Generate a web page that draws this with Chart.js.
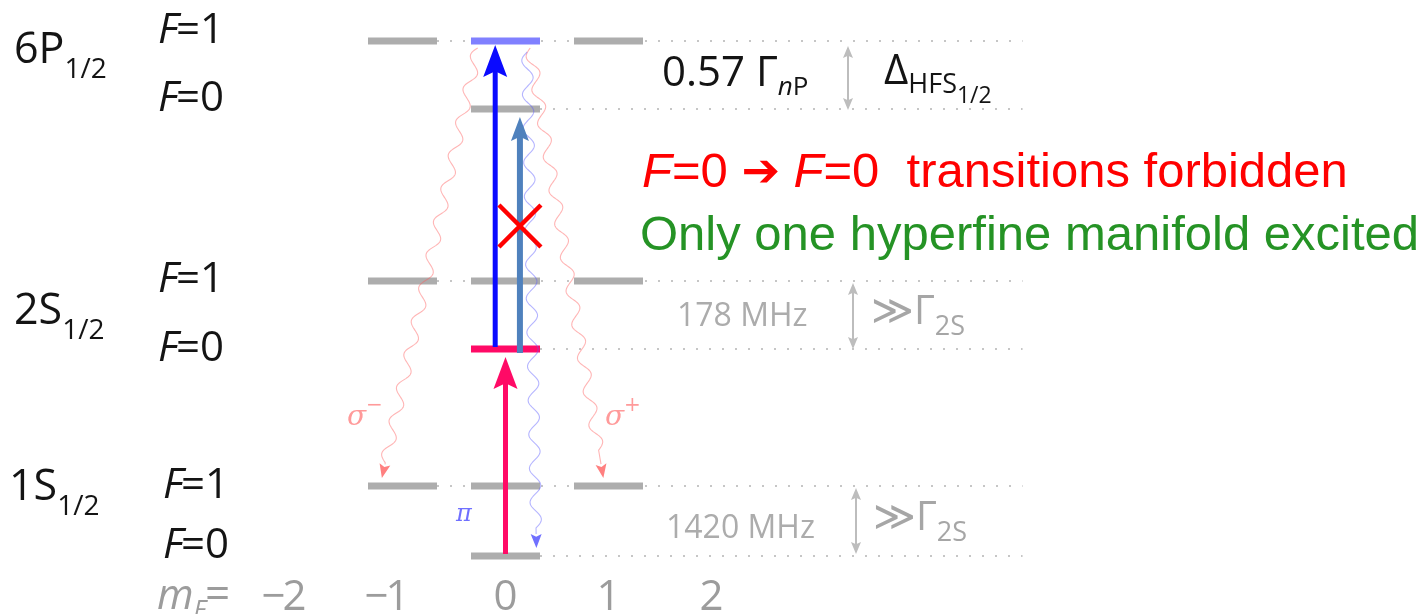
<!DOCTYPE html>
<html>
<head>
<meta charset="utf-8">
<script src="https://cdn.jsdelivr.net/npm/chart.js@4.4.1/dist/chart.umd.min.js"></script>
<style>
html,body{margin:0;padding:0;background:#fff;overflow:hidden;}
#wrap{width:1425px;height:614px;}
</style>
</head>
<body>
<div id="wrap"><canvas id="lv" width="1425" height="614"></canvas></div>
<script>
// mF axis and level energies (arbitrary diagram units, bottom = 0)
const mFTicks=[-2,-1,0,1,2];
const levelNames=['1S F=0','1S F=1','2S F=0','2S F=1','6P F=0','6P F=1'];
const levelEnergy=[58,128,265,333,505,573];
const levelMF=[[0],[-1,0,1],[0],[-1,0,1],[0],[-1,0,1]];
const highlightLevel=[2,5];          // 2S F=0 mF=0 and 6P F=1 mF=0
const highlightColor=['#ff0a66','#8080ff'];
// excitations: from level -> to level at mF
const laserFrom=[0,2,2];
const laserTo=[2,5,4];
const laserMF=[0,-0.1,0.14];
const laserColor=['#ff0a66','#0a0aff','#4f81bd'];
// spontaneous decays out of 6P F=1 mF=0
const decayName=['σ−','σ+','π'];
const decayFromMF=[-0.27,0.24,0.21];
const decayToLevel=[1,1,0];
const decayToMF=[-1.2,0.95,0.3];

const HALF=0.335, GUIDE_END=5.02;
const GRAY='#adadad';

function fontOf(p){return (p.italic?'italic ':'')+p.size+'px '+(p.family||'"Open Sans", "DejaVu Sans", sans-serif');}
function rich(ctx,x,y,parts,color){
  ctx.textAlign='left';ctx.textBaseline='alphabetic';
  parts.forEach(p=>{
    ctx.font=fontOf(p);ctx.fillStyle=p.color||color;
    ctx.fillText(p.t,x,y+(p.dy||0));
    x+=ctx.measureText(p.t).width+(p.kern||0);
  });
}
function stealth(ctx,x,tip,hw,hl,dir,color){
  ctx.beginPath();
  ctx.moveTo(x,tip);
  ctx.lineTo(x-hw,tip+dir*hl);
  ctx.lineTo(x,tip+dir*hl*0.82);
  ctx.lineTo(x+hw,tip+dir*hl);
  ctx.closePath();ctx.fillStyle=color;ctx.fill();
}
function wavy(ctx,x0,y0,x1,y1,color,headColor){
  const dx=x1-x0,dy=y1-y0,L=Math.hypot(dx,dy),ux=dx/L,uy=dy/L,nx=-uy,ny=ux;
  const head=14,amp=5.5,wl=34;
  const stop=Math.floor((L-head)/(wl/2))*(wl/2);
  ctx.beginPath();
  for(let s=0;s<=stop;s+=1){
    const o=amp*Math.sin(2*Math.PI*s/wl);
    const px=x0+ux*s+nx*o,py=y0+uy*s+ny*o;
    s?ctx.lineTo(px,py):ctx.moveTo(px,py);
  }
  ctx.lineTo(x1-ux*head,y1-uy*head);
  ctx.strokeStyle=color;ctx.lineWidth=1.1;ctx.stroke();
  ctx.beginPath();
  ctx.moveTo(x1,y1);
  ctx.lineTo(x1-ux*head+nx*5.5,y1-uy*head+ny*5.5);
  ctx.lineTo(x1-ux*head*0.8,y1-uy*head*0.8);
  ctx.lineTo(x1-ux*head-nx*5.5,y1-uy*head-ny*5.5);
  ctx.closePath();ctx.fillStyle=headColor;ctx.fill();
}
function dblArrow(ctx,x,y0,y1){
  ctx.strokeStyle='#bdbdbd';ctx.lineWidth=2;
  ctx.beginPath();ctx.moveTo(x,y0+8);ctx.lineTo(x,y1-8);ctx.stroke();
  stealth(ctx,x,y0,5,12,1,'#bdbdbd');
  stealth(ctx,x,y1,5,12,-1,'#bdbdbd');
}

const datasets=[];
levelNames.forEach((name,i)=>{
  const e=levelEnergy[i];
  datasets.push({label:name+' guide',data:[{x:Math.min(...levelMF[i])+HALF,y:e},{x:GUIDE_END,y:e}],
    showLine:true,borderColor:'#c6c6c6',borderWidth:2,borderDash:[2,11],pointRadius:0,order:3});
  levelMF[i].forEach(m=>{
    const h=highlightLevel.indexOf(i);
    datasets.push({label:name+' mF='+m,data:[{x:m-HALF,y:e},{x:m+HALF,y:e}],
      showLine:true,borderColor:(h>=0&&m===0)?highlightColor[h]:GRAY,borderWidth:7,
      borderCapStyle:'butt',pointRadius:0,order:2});
  });
});

const diagram={
  id:'diagram',
  afterDatasetsDraw(chart){
    const ctx=chart.ctx,xs=chart.scales.x,ys=chart.scales.y;
    const X=v=>xs.getPixelForValue(v),Y=v=>ys.getPixelForValue(v);
    ctx.save();
    // decays (wavy)
    const top=Y(levelEnergy[5])+7;
    decayName.forEach((n,k)=>{
      const red=k<2;
      wavy(ctx,X(decayFromMF[k]),top+(k===2?4:0),X(decayToMF[k]),Y(levelEnergy[decayToLevel[k]])-8,
        red?'rgba(255,90,90,0.45)':'rgba(90,90,255,0.45)',red?'#ff8080':'#7070ff');
    });
    // laser arrows
    laserFrom.forEach((f,k)=>{
      const x=X(laserMF[k]);
      const tail=Y(levelEnergy[f])+(k===2?4:-2);
      const tip=Y(levelEnergy[laserTo[k]])+(k===1?4:8);
      const w=k===2?6:5,hw=k===2?9:12,hl=k===2?24:32;
      ctx.fillStyle=laserColor[k];
      ctx.fillRect(x-w/2,tip+hl*0.7,w,tail-(tip+hl*0.7));
      stealth(ctx,x,tip,hw,hl,1,laserColor[k]);
    });
    // forbidden cross on the F=0 -> F=0 arrow
    const cx=X(laserMF[2]),cy=Y((levelEnergy[2]+levelEnergy[4])/2)-3;
    ctx.strokeStyle='#ff0000';ctx.lineWidth=4.5;ctx.lineCap='butt';
    ctx.beginPath();ctx.moveTo(cx-21,cy-21);ctx.lineTo(cx+21,cy+21);
    ctx.moveTo(cx+21,cy-21);ctx.lineTo(cx-21,cy+21);ctx.stroke();

    // polarisation labels
    const serif='"DejaVu Serif", "Liberation Serif", serif';
    rich(ctx,347,425,[{t:'σ',size:28,italic:true,family:serif},{t:'−',size:20,dy:-14,family:serif}],'#ff9a9a');
    rich(ctx,605,425,[{t:'σ',size:28,italic:true,family:serif},{t:'+',size:20,dy:-14,family:serif}],'#ff9a9a');
    rich(ctx,456,521,[{t:'π',size:24,italic:true,family:serif}],'#7070ff');

    // term and F labels
    const K='#141414';
    rich(ctx,14,63,[{t:'6P',size:43},{t:'1/2',size:28,dy:15}],K);
    rich(ctx,14,324,[{t:'2S',size:43},{t:'1/2',size:28,dy:15}],K);
    rich(ctx,9,500,[{t:'1S',size:43},{t:'1/2',size:28,dy:15}],K);
    const fl=[[158,43,'1'],[158,111,'0'],[158,292,'1'],[158,361,'0'],[163,498,'1'],[163,558,'0']];
    fl.forEach(f=>rich(ctx,f[0],f[1],[{t:'F',size:42,italic:true,kern:-2},{t:'='+f[2],size:42}],K));

    // mF axis labels
    rich(ctx,157,609,[{t:'m',size:42,italic:true},{t:'F',size:26,italic:true,dy:9,kern:-1},{t:'=',size:44}],'#9c9c9c');
    ctx.font='42px "Open Sans", sans-serif';ctx.fillStyle='#9c9c9c';ctx.textBaseline='alphabetic';
    mFTicks.forEach(m=>{
      const d=String(Math.abs(m)),x=X(m)+(m<0?-5:0);
      ctx.textAlign='center';ctx.fillText(d,x,610);
      if(m<0){ctx.textAlign='right';ctx.fillText('−',x-ctx.measureText(d).width/2+3,610);}
    });

    // right-hand annotations
    rich(ctx,662,86,[{t:'0.57 Γ',size:42},{t:'n',size:26,italic:true,dy:9},{t:'P',size:26,dy:9}],K);
    dblArrow(ctx,848,46,110);
    rich(ctx,884,84,[{t:'Δ',size:42},{t:'HFS',size:27,dy:9},{t:'1/2',size:23,dy:19}],K);
    rich(ctx,677,326,[{t:'178 MHz',size:32}],'#acacac');
    dblArrow(ctx,853,283,349);
    rich(ctx,871,324,[{t:'≫',size:41},{t:'Γ',size:40},{t:'2S',size:27,dy:11}],'#a6a6a6');
    rich(ctx,666,538,[{t:'1420 MHz',size:32}],'#acacac');
    dblArrow(ctx,856,488,554);
    rich(ctx,873,530,[{t:'≫',size:41},{t:'Γ',size:40},{t:'2S',size:27,dy:11}],'#a6a6a6');

    const A='"Liberation Sans", Arial, sans-serif';
    rich(ctx,642,187,[{t:'F',size:49,italic:true,family:A},{t:'=0 ',size:49,family:A},{t:'➔',size:46,family:'"DejaVu Sans", sans-serif',dy:-1},
      {t:' ',size:49,family:A},{t:'F',size:49,italic:true,family:A},{t:'=0  transitions forbidden',size:49,family:A}],'#ff0000');
    rich(ctx,640,250,[{t:'Only one hyperfine manifold excited',size:49,family:A}],'#259325');
    ctx.restore();
  }
};

new Chart(document.getElementById('lv'),{
  type:'scatter',
  data:{datasets},
  options:{
    responsive:false,animation:false,devicePixelRatio:1,
    layout:{padding:0},
    plugins:{legend:{display:false},tooltip:{enabled:false}},
    scales:{
      x:{type:'linear',min:-505.5/103,max:(1425-505.5)/103,display:false},
      y:{type:'linear',min:0,max:614,display:false}
    }
  },
  plugins:[diagram]
});
</script>
</body>
</html>
